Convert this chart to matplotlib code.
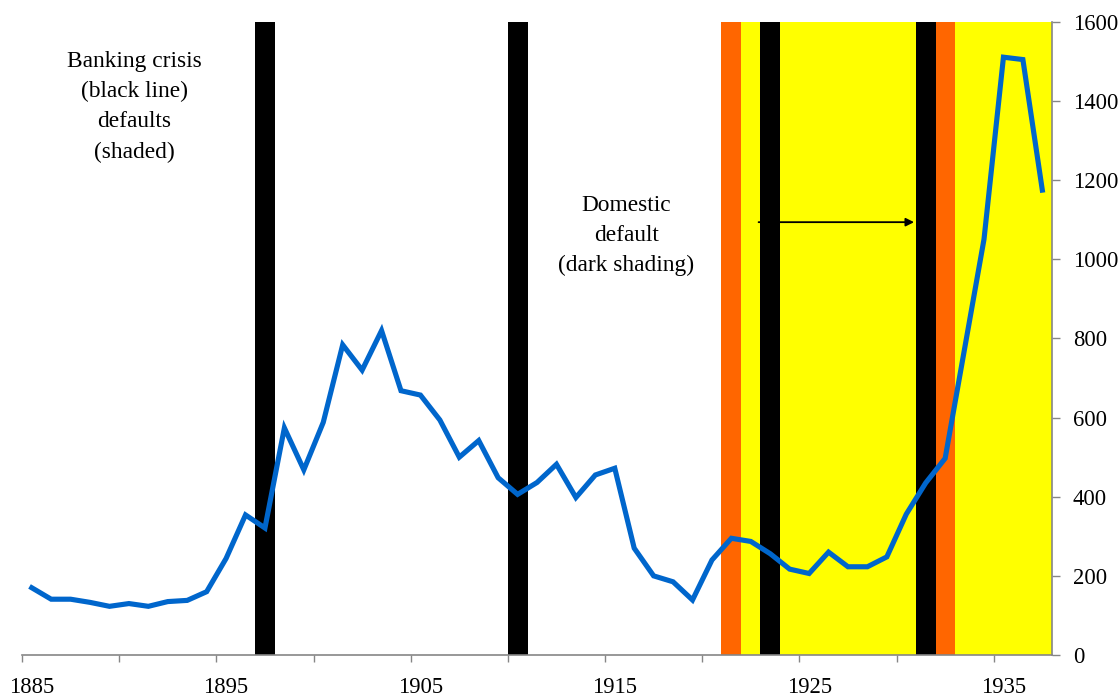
import matplotlib
matplotlib.use("Agg")
import matplotlib.pyplot as plt
import numpy as np

years = list(range(1885, 1938))
values = [170, 141, 141, 133, 123, 130, 123, 135, 138, 160,
          244, 354, 321, 574, 468, 588, 784, 720, 820, 668,
          657, 594, 500, 542, 448, 406, 436, 482, 398, 455,
          472, 270, 200, 185, 139, 240, 295, 287, 256, 217,
          206, 260, 223, 223, 248, 356, 435, 497, 774, 1051,
          1511, 1505, 1175]
banking_crisis_years = [1897, 1910, 1923, 1931]
external_default_years = [1921, 1932]
default_period = (1921.5, 1937.5)
tick_label_years = [1885, 1895, 1905, 1915, 1925, 1935]
y_ticks = [0, 200, 400, 600, 800, 1000, 1200, 1400, 1600]
arrow_span = (1922.4, 1930.4)
arrow_level = 1094

serif = ['Liberation Serif', 'DejaVu Serif']
fs_tick = 16.3
fs_text = 16.8

fig = plt.figure(figsize=(11.18, 7.0), dpi=100)
ax = fig.add_axes([0.0197, 0.0643, 0.9213, 0.9043])

ymax = y_ticks[-1]
ax.axvspan(default_period[0], default_period[1], color='#FFFF00', lw=0, zorder=1)
ax.bar(external_default_years, [ymax] * len(external_default_years), width=1.02,
       color='#FF6600', lw=0, zorder=2)
ax.bar(banking_crisis_years, [ymax] * len(banking_crisis_years), width=1.02,
       color='black', lw=0, zorder=3)
ax.plot(years, values, color='#0066CC', lw=3.7, zorder=5, solid_joinstyle='miter')

ax.annotate('', xy=(arrow_span[1], arrow_level), xytext=(arrow_span[0], arrow_level),
            arrowprops=dict(arrowstyle='-|>', color='black', lw=1.3,
                            mutation_scale=12, shrinkA=0, shrinkB=0), zorder=6)

ax.text(1890.27, 1386, 'Banking crisis\n(black line)\ndefaults\n(shaded)',
        ha='center', va='center', fontsize=fs_text, family=serif, linespacing=1.57, zorder=6)
ax.text(1915.6, 1060, 'Domestic\ndefault\n(dark shading)',
        ha='center', va='center', fontsize=fs_text, family=serif, linespacing=1.57, zorder=6)

ax.set_xlim(1884.5, 1937.5)
ax.set_ylim(0, ymax)

# x axis: tick marks between categories every 5, labels every 10
ax.set_xticks(np.arange(1884.5, 1937, 5))
ax.set_xticklabels([])
ax.set_xticks(tick_label_years, minor=True)
ax.set_xticklabels([str(y) for y in tick_label_years], minor=True,
                   fontsize=fs_tick, family=serif)
ax.tick_params(axis='x', which='major', direction='out', length=5, width=1, color='#868686')
ax.tick_params(axis='x', which='minor', length=0, pad=16)

ax.yaxis.tick_right()
ax.set_yticks(y_ticks)
ax.set_yticklabels([str(v) for v in y_ticks], fontsize=fs_tick, family=serif)
ax.tick_params(axis='y', direction='out', length=6, width=1, color='#868686', pad=9)

for s in ['top', 'left']:
    ax.spines[s].set_visible(False)
for s in ['bottom', 'right']:
    ax.spines[s].set_color('#868686')
    ax.spines[s].set_linewidth(1.2)
    ax.spines[s].set_zorder(7)

fig.savefig('out.png', dpi=100)
